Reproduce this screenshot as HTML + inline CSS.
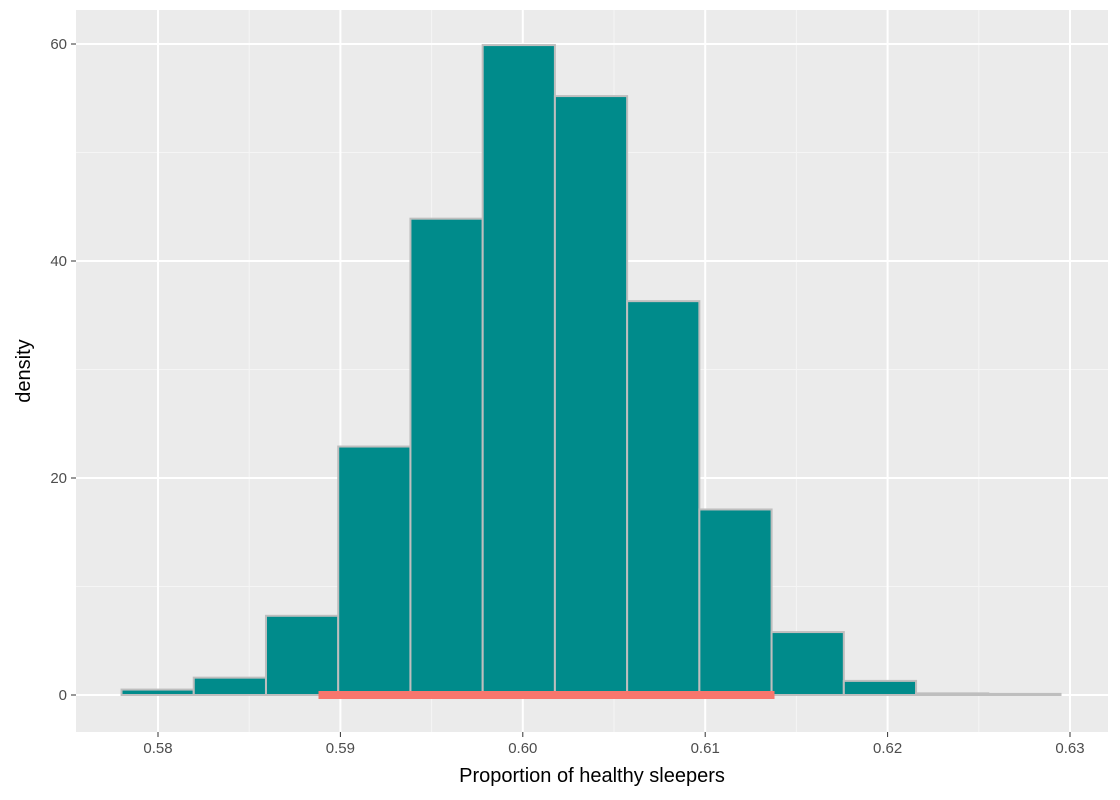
<!DOCTYPE html>
<html><head><meta charset="utf-8"><style>body{margin:0;background:#fff}svg{display:block;font-family:"Liberation Sans",sans-serif}</style></head>
<body>
<svg id="chart" width="1120" height="800">
<rect x="76" y="10" width="1032" height="722" fill="#ebebeb"/>
<g id="grid"></g><g id="bars"></g><g id="axes"></g>
<text x="592" y="782" font-size="20" text-anchor="middle" fill="#000">Proportion of healthy sleepers</text>
<text transform="translate(30,371) rotate(-90)" font-size="20" text-anchor="middle" fill="#000">density</text>
</svg>
<script>
const binStart = 0.578;
const binWidth = 0.00396;
const densities = [0.5,1.6,7.3,22.9,43.9,59.9,55.2,36.3,17.1,5.8,1.3,0.15,0.1];
const xTicks = [0.58,0.59,0.60,0.61,0.62,0.63];
const xTickLabels = ["0.58","0.59","0.60","0.61","0.62","0.63"];
const yTicks = [0,20,40,60];
const intervalLow = 0.5888, intervalHigh = 0.6138;
const X = v => 158 + (v-0.58)*18240;
const Y = v => 695 - v*10.85;
const NS="http://www.w3.org/2000/svg";
function mk(tag, attrs, parent, name){const e=document.createElementNS(NS,tag);for(const k in attrs)e.setAttribute(k,attrs[k]);


parent.appendChild(e);return e;}
const grid=document.getElementById('grid'),bars=document.getElementById('bars'),axes=document.getElementById('axes');
for(let i=0;i<xTicks.length-1;i++){const m=X((xTicks[i]+xTicks[i+1])/2);mk('line',{x1:m,x2:m,y1:10,y2:732,stroke:'#f5f5f5','stroke-width':1},grid,'x-minor-gridline');}
for(let i=0;i<yTicks.length-1;i++){const m=Y((yTicks[i]+yTicks[i+1])/2);mk('line',{x1:76,x2:1108,y1:m,y2:m,stroke:'#f5f5f5','stroke-width':1},grid,'y-minor-gridline');}
mk('line',{x1:76,x2:1108,y1:Y(70),y2:Y(70),stroke:'#f5f5f5','stroke-width':1},grid,'y-minor-gridline');
xTicks.forEach((t,i)=>{const x=X(t);mk('line',{x1:x,x2:x,y1:10,y2:732,stroke:'#fff','stroke-width':2},grid,'x-major-gridline');
mk('line',{x1:x,x2:x,y1:732,y2:737,stroke:'#333','stroke-width':1},axes,'x-tick');
const tx=mk('text',{x:x,y:753,'font-size':15,'text-anchor':'middle',fill:'#4d4d4d'},axes,'x-tick-label');tx.textContent=xTickLabels[i];});
yTicks.forEach(t=>{const y=Y(t);mk('line',{x1:76,x2:1108,y1:y,y2:y,stroke:'#fff','stroke-width':2},grid,'y-major-gridline');
mk('line',{x1:71,x2:76,y1:y,y2:y,stroke:'#333','stroke-width':1},axes,'y-tick');
const tx=mk('text',{x:67,y:y+5,'font-size':15,'text-anchor':'end',fill:'#4d4d4d'},axes,'y-tick-label');tx.textContent=t;});
densities.forEach((d,i)=>{const x0=X(binStart+i*binWidth),x1=X(binStart+(i+1)*binWidth);
mk('rect',{x:x0,y:Y(d),width:x1-x0,height:Y(0)-Y(d),fill:'#008b8b',stroke:'#bebebe','stroke-width':2},bars,'histogram-bar');});
mk('line',{x1:X(intervalLow),x2:X(intervalHigh),y1:Y(0),y2:Y(0),stroke:'#f8766d','stroke-width':8},bars,'confidence-interval-segment');
</script>
</body></html>
